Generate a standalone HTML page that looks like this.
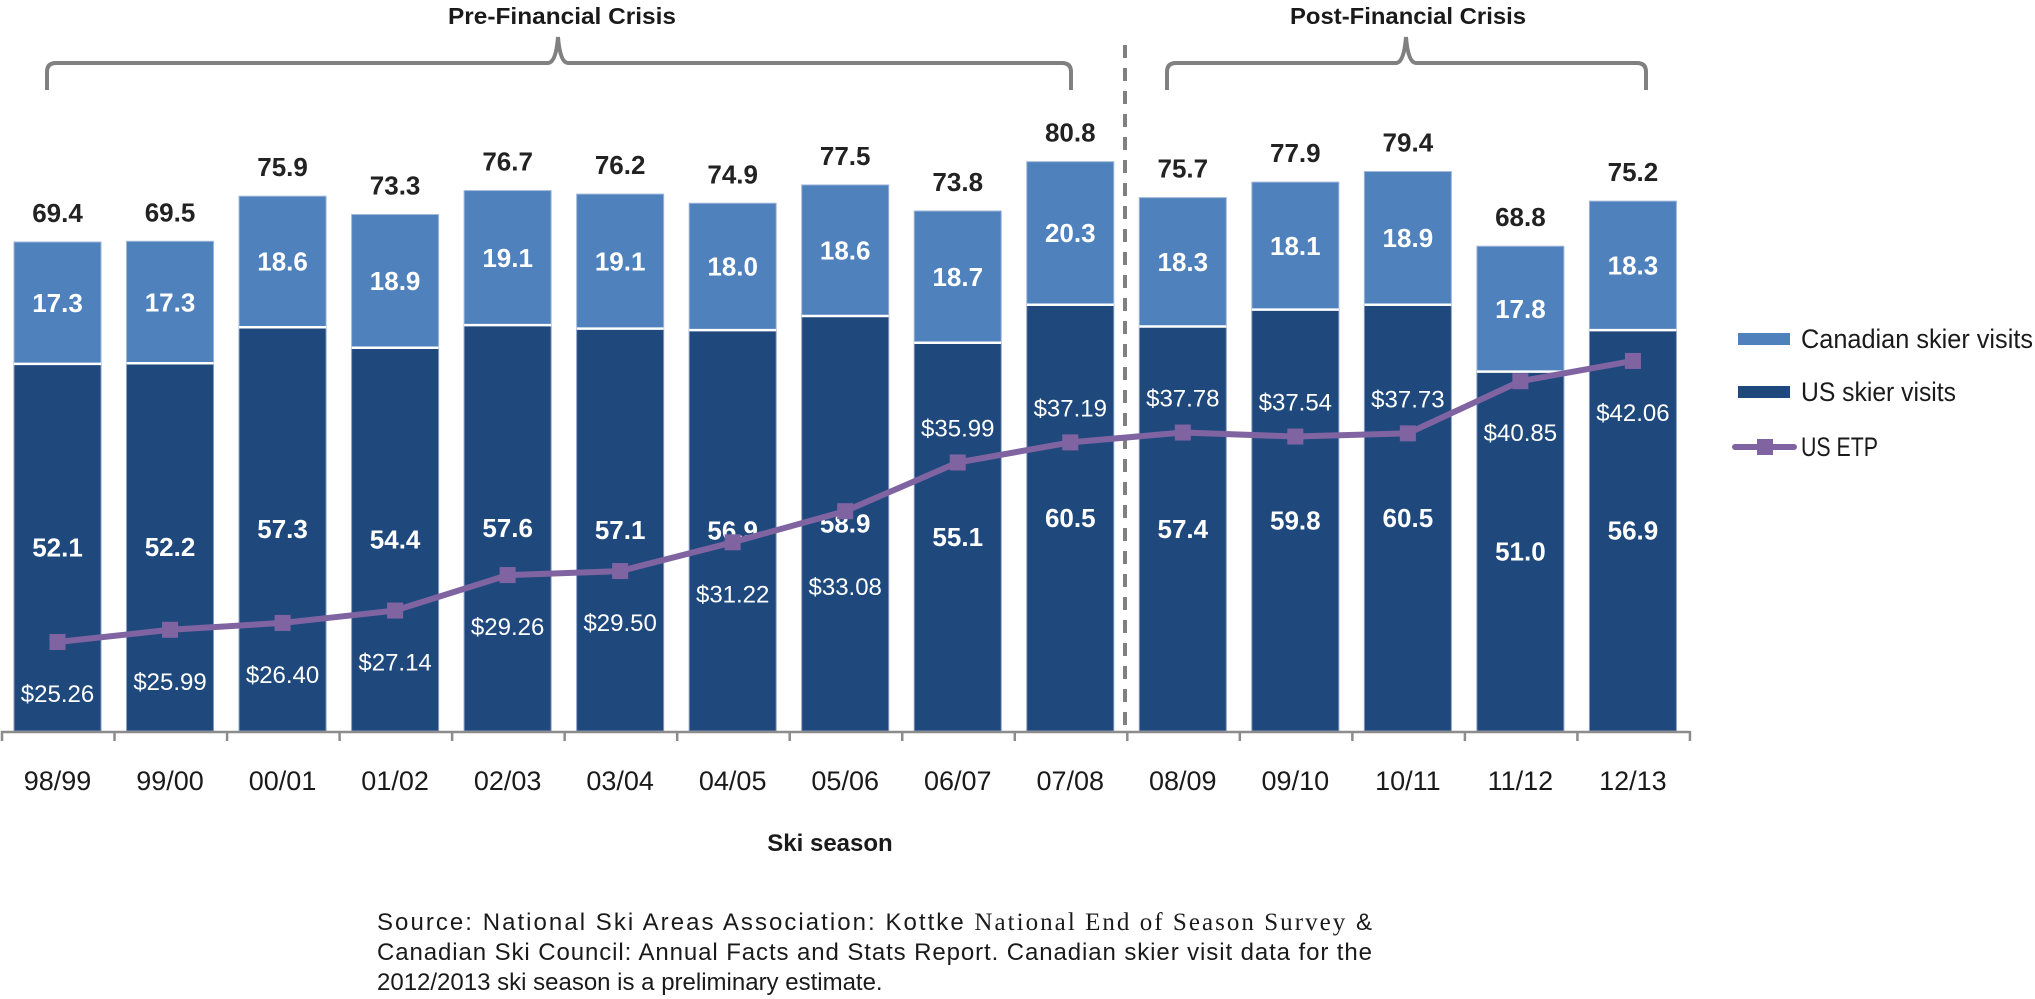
<!DOCTYPE html>
<html><head><meta charset="utf-8">
<style>
html,body{margin:0;padding:0;background:#fff;}
svg{display:block;font-family:"Liberation Sans",sans-serif;}
</style></head>
<body>
<svg id="chart" width="2035" height="999" viewBox="0 0 2035 999" xmlns="http://www.w3.org/2000/svg">
  <g id="annot">
    <text x="562" y="24" font-size="23" font-weight="bold" fill="#1a1a1a" text-anchor="middle" textLength="228" lengthAdjust="spacingAndGlyphs">Pre-Financial  Crisis</text>
    <path d="M47 90 V72 Q47 63 56 63 H548 Q556 63 558 37 Q560 63 568 63 H1062 Q1071 63 1071 72 V90" fill="none" stroke="#808080" stroke-width="4"/>
    <text x="1408" y="24" font-size="23" font-weight="bold" fill="#1a1a1a" text-anchor="middle" textLength="236" lengthAdjust="spacingAndGlyphs">Post-Financial  Crisis</text>
    <path d="M1167 90 V72 Q1167 63 1176 63 H1396 Q1404 63 1406 37 Q1408 63 1416 63 H1637 Q1646 63 1646 72 V90" fill="none" stroke="#808080" stroke-width="4"/>
    <line x1="1125" y1="45" x2="1125" y2="731" stroke="#808080" stroke-width="4" stroke-dasharray="13,10"/>
  </g>
  <g id="bars"></g>
  <g id="axis"></g>
  <g id="line"></g>
  <text x="830" y="851" font-size="24" font-weight="bold" fill="#1a1a1a" text-anchor="middle">Ski season</text>
  <g>
    <g>
      <rect x="1738" y="333" width="52" height="12" fill="#4F81BD"/>
      <text x="1801" y="348" font-size="27" fill="#1a1a1a" textLength="232" lengthAdjust="spacingAndGlyphs">Canadian skier visits</text>
    </g>
    <g>
      <rect x="1738" y="386" width="52" height="12" fill="#1F497D"/>
      <text x="1801" y="401" font-size="27" fill="#1a1a1a" textLength="155" lengthAdjust="spacingAndGlyphs">US skier visits</text>
    </g>
    <g>
      <line x1="1735" y1="447" x2="1794" y2="447" stroke="#8064A2" stroke-width="6" stroke-linecap="round"/>
      <rect x="1757" y="439" width="16" height="16" fill="#8064A2"/>
      <text x="1801" y="456" font-size="27" fill="#1a1a1a" textLength="77" lengthAdjust="spacingAndGlyphs">US ETP</text>
    </g>
  </g>
  <g font-size="24" fill="#1a1a1a">
    <text x="377" y="930" textLength="995" lengthAdjust="spacing">Source: National Ski Areas Association: Kottke <tspan font-family="Liberation Serif, serif" font-size="25">National End of Season Survey</tspan> &amp;</text>
    <text x="377" y="960" textLength="995" lengthAdjust="spacing">Canadian Ski Council: Annual Facts and Stats Report. Canadian skier visit data for the</text>
    <text x="377" y="990">2012/2013 ski season  is  a preliminary estimate.</text>
  </g>
</svg>
<script>
const categories = ["98/99","99/00","00/01","01/02","02/03","03/04","04/05","05/06","06/07","07/08","08/09","09/10","10/11","11/12","12/13"];
const usVisits = [52.1,52.2,57.3,54.4,57.6,57.1,56.9,58.9,55.1,60.5,57.4,59.8,60.5,51.0,56.9];
const canVisits = [17.3,17.3,18.6,18.9,19.1,19.1,18.0,18.6,18.7,20.3,18.3,18.1,18.9,17.8,18.3];
const totals = ["69.4","69.5","75.9","73.3","76.7","76.2","74.9","77.5","73.8","80.8","75.7","77.9","79.4","68.8","75.2"];
const etp = [25.26,25.99,26.40,27.14,29.26,29.50,31.22,33.08,35.99,37.19,37.78,37.54,37.73,40.85,42.06];
const etpLabelPos = ["below","below","below","below","below","below","below","far","above","above","above","above","above","below","below"];

const NS = "http://www.w3.org/2000/svg";
const X0 = 2, PITCH = 112.53, BAR_OFF = 12, BAR_W = 87;
const BASE = 731, VPX = 7.046;
function xBand(i){ return X0 + i*PITCH; }
function xCenter(i){ return X0 + i*PITCH + BAR_OFF + BAR_W/2; }
function yV(v){ return BASE - v*VPX; }
function yP(v){ return 642 - (v-25.26)*16.73; }
function mk(tag, attrs, parent){ const e=document.createElementNS(NS,tag); for(const k in attrs) e.setAttribute(k,attrs[k]); parent.appendChild(e); return e; }

const gb = document.getElementById('bars');
categories.forEach((c,i)=>{
  const x = xBand(i)+BAR_OFF;
  const yUs = yV(usVisits[i]), yTop = yV(usVisits[i]+canVisits[i]);
  const r1 = mk('rect',{x:x,y:yUs,width:BAR_W,height:BASE-yUs,fill:'#1F497D',stroke:'#8a9cc4','stroke-width':1},gb);
  
  
  const r2 = mk('rect',{x:x,y:yTop,width:BAR_W,height:yUs-yTop,fill:'#4F81BD',stroke:'#9fb6d8','stroke-width':1},gb);
  
  
  const sep = mk('line',{x1:x,x2:x+BAR_W,y1:yUs,y2:yUs,stroke:'#fff','stroke-width':2.5},gb);
  
  
  const t1 = mk('text',{x:xCenter(i),y:(yUs+BASE)/2+9,'font-size':26,'font-weight':'bold',fill:'#fff','text-anchor':'middle'},gb);
  t1.textContent = usVisits[i].toFixed(1);
  
  
  const t2 = mk('text',{x:xCenter(i),y:(yUs+yTop)/2+9,'font-size':26,'font-weight':'bold',fill:'#fff','text-anchor':'middle'},gb);
  t2.textContent = canVisits[i].toFixed(1);
  
  
  const t3 = mk('text',{x:xCenter(i),y:yTop-20,'font-size':26,'font-weight':'bold',fill:'#222','text-anchor':'middle'},gb);
  t3.textContent = totals[i];
  
  
});

const ga = document.getElementById('axis');
const ax = mk('line',{x1:X0,x2:xBand(categories.length),y1:BASE+1,y2:BASE+1,stroke:'#8c8c8c','stroke-width':2.5},ga);


for(let i=0;i<=categories.length;i++){
  const tk = mk('line',{x1:xBand(i),x2:xBand(i),y1:BASE,y2:BASE+10,stroke:'#8c8c8c','stroke-width':2.5},ga);
  
  
}
categories.forEach((c,i)=>{
  const t = mk('text',{x:xCenter(i),y:790,'font-size':27,fill:'#1a1a1a','text-anchor':'middle'},ga);
  t.textContent = c;
  
  
});

const gl = document.getElementById('line');
const pts = etp.map((v,i)=>xCenter(i)+','+yP(v)).join(' ');
const pl = mk('polyline',{points:pts,fill:'none',stroke:'#8064A2','stroke-width':6,'stroke-linejoin':'round'},gl);


etp.forEach((v,i)=>{
  const cx = xCenter(i), cy = yP(v);
  const m = mk('rect',{x:cx-8,y:cy-8,width:16,height:16,fill:'#8064A2'},gl);
  
  
  const pos = etpLabelPos[i];
  const ly = pos==='above' ? cy-35+9 : (pos==='far' ? cy+75+9 : cy+51+9);
  const t = mk('text',{x:cx,y:ly,'font-size':24,fill:'#fff','text-anchor':'middle'},gl);
  t.textContent = '$'+v.toFixed(2);
  
  
});
</script>
</body></html>
